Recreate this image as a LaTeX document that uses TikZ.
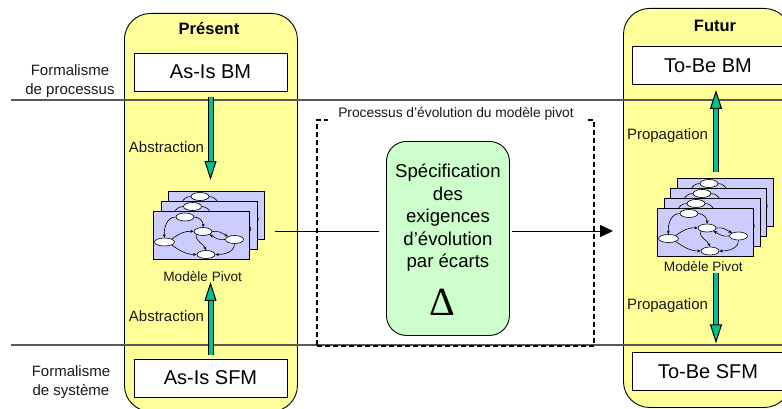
\documentclass[tikz,border=0pt]{standalone}
\usepackage{fontspec}
\setmainfont{Liberation Sans}
\newfontfamily\deltafont{Liberation Serif}
\usetikzlibrary{arrows.meta, positioning, shapes.geometric}
\definecolor{capsule}{HTML}{FFFF99}
\definecolor{sheet}{HTML}{CCCCFF}
\definecolor{spec}{HTML}{CCFFCC}
\definecolor{teal}{HTML}{00C08F}
\definecolor{rule}{HTML}{595959}
\newcommand{\fsize}[1]{\fontsize{#1}{#1}\selectfont}
\tikzset{
    phase/.style={draw, fill=capsule, rounded corners=26pt, line width=0.9pt, anchor=north west},
    modelbox/.style={draw, fill=white, line width=0.9pt, minimum width=153pt, minimum height=38pt, font=\fsize{20}},
    legend/.style={align=center, font=\fsize{15}, text=black!90, inner sep=0pt},
    flowlabel/.style={font=\fsize{15}, inner sep=0pt, text=black!90},
    pivotlabel/.style={font=\fsize{13.6}, inner sep=0pt, text=black!90},
    flowup/.style={line width=1pt, double=teal, double distance=4pt, -{Triangle[length=19pt, width=12pt, fill=teal, line width=1pt]}},
    state/.style={draw, fill=white, ellipse, minimum width=18pt, minimum height=8pt, inner sep=0pt, line width=0.6pt},
    link/.style={line width=0.6pt, -{Stealth[length=3.5pt, width=3pt]}},
    pivotsheet/.pic={
        \node[draw, fill=sheet, line width=0.9pt, minimum width=96pt, minimum height=48pt, anchor=north west] (-box) at (0,0) {};
        \node[state] (-top) at (32,-6) {};
        \node[state] (-mid) at (50,-20.5) {};
        \node[state, minimum width=20pt] (-left) at (11.5,-31) {};
        \node[state] (-right) at (81.5,-28.5) {};
        \node[state] (-bot) at (53,-43.5) {};
        \draw[link] (-top.west) to[out=180, in=95] (-left.north);
        \draw[link] (-top.east) to[out=0, in=85] (-mid.north);
        \draw[link] (-left.north east) to[out=35, in=175] (-mid.west);
        \draw[link] (-left.south east) to[out=-35, in=180] (-bot.west);
        \draw[link] (-mid.east) to[out=10, in=150] (-right.north west);
        \draw[link] (-right.west) to[out=190, in=-30] (-mid.south east);
        \draw[link] (-mid.south west) to[out=-100, in=110] (-bot.north);
        \draw[link] (-right.south) to[out=-90, in=0] (-bot.east);
    }
}
\begin{document}
\begin{tikzpicture}[x=1pt, y=1pt]
    \useasboundingbox (0,0) rectangle (782,408);
    \clip (0,0) rectangle (782,408);

    % Phases
    \node[phase, minimum width=173pt, minimum height=398pt] (present) at (124,395) {};
    \node[phase, minimum width=167pt, minimum height=399pt] (futur) at (623,400) {};
    \node[font=\bfseries\fsize{16.5}, inner sep=0pt] (presentlabel) at (209,379) {Présent};
    \node[font=\bfseries\fsize{16.5}, inner sep=0pt] (futurlabel) at (715,382) {Futur};

    % Formalism rules
    \coordinate (r1a) at (11,308);
    \coordinate (r1b) at (782,308);
    \coordinate (r2a) at (11,63);
    \coordinate (r2b) at (782,63);
    \draw[rule, line width=1.3pt] (r1a) -- (r1b);
    \draw[rule, line width=1.3pt] (r2a) -- (r2b);
    \node[legend] (fproc) at (70,327) {Formalisme\\[4.5pt]de processus};
    \node[legend] (fsys) at (71,26) {Formalisme\\[4.5pt]de système};

    % Models
    \node[modelbox] (asisbm) at (210.5,336) {As-Is BM};
    \node[modelbox] (asissfm) at (210.5,30) {As-Is SFM};
    \node[modelbox, minimum width=152pt] (tobebm) at (708,342.5) {To-Be BM};
    \node[modelbox, minimum width=152pt] (tobesfm) at (708,36.5) {To-Be SFM};

    % Pivot stacks
    \pic (pl3) at (168,217.5) {pivotsheet};
    \pic (pl2) at (160.5,207.5) {pivotsheet};
    \pic (pl1) at (153,197) {pivotsheet};
    \node[pivotlabel] (pivotleft) at (202.7,131.3) {Modèle Pivot};

    \pic (pr4) at (677,230.5) {pivotsheet};
    \pic (pr3) at (670,220.5) {pivotsheet};
    \pic (pr2) at (664,210.5) {pivotsheet};
    \pic (pr1) at (657,200.5) {pivotsheet};
    \node[pivotlabel] (pivotright) at (703.3,141.3) {Modèle Pivot};

    % Evolution process
    \node[draw, dash pattern=on 5pt off 3pt, line width=1.7pt, minimum width=277pt, minimum height=226pt, anchor=north west] (evolution) at (316,289) {};
    \node[fill=white, font=\fsize{13.8}, inner sep=0pt, minimum width=257pt, minimum height=12pt, text=black!90] (evolabel) at (456,294) {Processus d’évolution du modèle pivot};
    \node[draw, fill=spec, rounded corners=20pt, line width=0.9pt, minimum width=123pt, minimum height=194pt, anchor=north west] (specbox) at (386,267) {};
    \node[align=center, font=\fsize{18.6}, inner sep=0pt, below=23pt of specbox.north] (spectext) {Spécification\\[3.8pt]des\\[3.8pt]exigences\\[3.8pt]d’évolution\\[3.8pt]par écarts};
    \node[font=\deltafont\fsize{40}, inner sep=0pt] (delta) at (442,106) {Δ};

    % Flows
    \coordinate (flowin) at (275,177);
    \coordinate (flowout) at (613,177);
    \draw[line width=1pt, shorten >=7pt] (flowin) -- (specbox.west |- flowin);
    \draw[line width=1pt, -{Triangle[length=13pt, width=12pt]}, shorten <=2pt] (specbox.east |- flowout) -- (flowout);

    \coordinate (pfoot) at (716,236.5);
    \coordinate (pstart) at (716,135);
    \draw[flowup, shorten <=6pt, shorten >=10.5pt] (asisbm.south) -- (asisbm.south |- pl3-box.north);
    \draw[flowup, shorten <=4pt] (asissfm.north) -- (asissfm.north |- pivotleft.south);
    \draw[flowup, shorten >=5pt] (pfoot) -- (pfoot |- tobebm.south);
    \draw[flowup, shorten >=8.7pt] (pstart) -- (pstart |- tobesfm.north);

    % Arrow labels
    \node[flowlabel] (abs1) at (166.5,261.3) {Abstraction};
    \node[flowlabel] (abs2) at (166.5,92.3) {Abstraction};
    \node[flowlabel] (prop1) at (667.5,272) {Propagation};
    \node[flowlabel] (prop2) at (667.5,102.3) {Propagation};
\end{tikzpicture}
\end{document}
